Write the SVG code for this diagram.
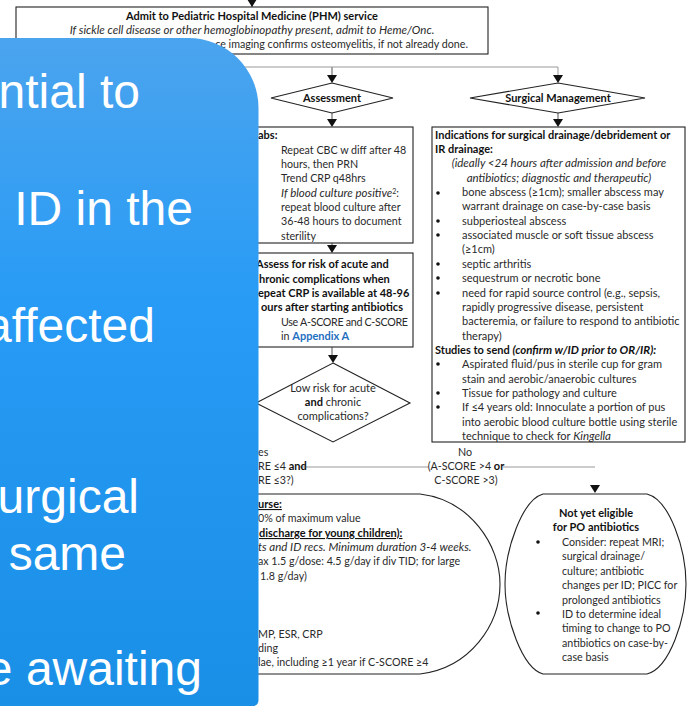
<svg xmlns="http://www.w3.org/2000/svg" width="692" height="706" viewBox="0 0 692 706">
<style>
text{font-family:Lato,"Open Sans","Liberation Sans",sans-serif;font-size:10.7px;fill:#2a2a2a}
.b{font-weight:700;fill:#111;font-size:11px}
.i{font-style:italic;font-size:11.5px}
.u{text-decoration:underline}
.c{text-anchor:middle}
.r text{font-size:11px}
.r .i{font-size:11.5px}
.s{fill:#fff;stroke:#222;stroke-width:1.1}
.l{fill:none;stroke:#555;stroke-width:1}
.g{fill:none;stroke:#999;stroke-width:1}
.a{fill:#111;stroke:none}
.w{font-family:"Liberation Sans",Arial,sans-serif;font-size:48px;fill:#fff;text-anchor:end}
.d{fill:#111}
</style>
<defs>
<linearGradient id="bg" x1="0" y1="0" x2="0" y2="1"><stop offset="0" stop-color="#4ba4ee"/><stop offset="0.4" stop-color="#279bf5"/><stop offset="1" stop-color="#1a8fe6"/></linearGradient>
<polygon id="ah" class="a" points="-5,0 5,0 0,8"/>
</defs>
<rect width="692" height="706" fill="#fff"/>
<g id="connectors">
<path class="l" d="M252 0V7M332 67V76M332 113V120M332 243V247M332 347V355M558 113V120"/>
<path class="g" d="M230 67H558V76M300 467H429M503 467H595"/>
<use href="#ah" x="252" y="-1"/>
<use href="#ah" x="332" y="75"/>
<use href="#ah" x="558" y="75"/>
<use href="#ah" x="332" y="119"/>
<use href="#ah" x="558" y="119"/>
<use href="#ah" x="332" y="245"/>
<use href="#ah" x="333" y="355"/>
<use href="#ah" x="595" y="485"/>
</g>
<g id="admit">
<rect class="s" x="16" y="7" width="472" height="47"/>
<text class="b c" x="252" y="20">Admit to Pediatric Hospital Medicine (PHM) service</text>
<text class="i c" x="252" y="34">If sickle cell disease or other hemoglobinopathy present, admit to Heme/Onc.</text>
<text x="468" y="48" style="text-anchor:end">ce imaging confirms osteomyelitis, if not already done.</text>
</g>
<g id="assessment">
<polygon class="s" points="332,83 393,98 332,113 271,98"/>
<text class="b c" x="332" y="102">Assessment</text>
</g>
<g id="surgical-management">
<polygon class="s" points="558,83 645,98 558,113 470,98"/>
<text class="b c" x="558" y="102">Surgical Management</text>
</g>
<g id="labs">
<rect class="s" x="200" y="127" width="213" height="116"/>
<text class="b" x="258" y="139">abs:</text>
<text x="281" y="154">Repeat CBC w diff after 48</text>
<text x="281" y="168">hours, then PRN</text>
<text x="281" y="182">Trend CRP q48hrs</text>
<text x="281" y="197"><tspan class="i">If blood culture positive</tspan><tspan dy="-3" font-size="7">2</tspan><tspan dy="3">:</tspan></text>
<text x="281" y="211">repeat blood culture after</text>
<text x="281" y="225">36-48 hours to document</text>
<text x="281" y="240">sterility</text>
</g>
<g id="assess-risk">
<rect class="s" x="200" y="253" width="213" height="94"/>
<text class="b" x="256" y="268">Assess for risk of acute and</text>
<text class="b" x="259" y="283">hronic complications when</text>
<text class="b" x="258" y="297">epeat CRP is available at 48-96</text>
<text class="b" x="261" y="311" textLength="142">ours after starting antibiotics</text>
<text x="281" y="326" textLength="127">Use A-SCORE and C-SCORE</text>
<text x="281" y="340">in <tspan class="b" style="fill:#1f6fc0">Appendix A</tspan></text>
</g>
<g id="low-risk" class="r">
<polygon class="s" points="333,363 410,403 333,442 256,403"/>
<text class="c" x="333" y="392">Low risk for acute</text>
<text class="c" x="333" y="406"><tspan class="b">and</tspan> chronic</text>
<text class="c" x="333" y="420">complications?</text>
</g>
<g id="surgical-box" class="r">
<rect class="s" x="432" y="127" width="253" height="315"/>
<text class="b" x="435" y="139">Indications for surgical drainage/debridement or</text>
<text class="b" x="435" y="153">IR drainage:</text>
<text class="i c" x="559" y="167">(ideally &lt;24 hours after admission and before</text>
<text class="i c" x="559" y="182">antibiotics; diagnostic and therapeutic)</text>
<circle class="d" cx="438" cy="193" r="1.8"/>
<text x="462" y="196">bone abscess (≥1cm); smaller abscess may</text>
<text x="462" y="210">warrant drainage on case-by-case basis</text>
<circle class="d" cx="438" cy="221" r="1.8"/>
<text x="462" y="225">subperiosteal abscess</text>
<circle class="d" cx="438" cy="235" r="1.8"/>
<text x="462" y="239">associated muscle or soft tissue abscess</text>
<text x="462" y="253">(≥1cm)</text>
<circle class="d" cx="438" cy="264" r="1.8"/>
<text x="462" y="268">septic arthritis</text>
<circle class="d" cx="438" cy="278" r="1.8"/>
<text x="462" y="282">sequestrum or necrotic bone</text>
<circle class="d" cx="438" cy="293" r="1.8"/>
<text x="462" y="297">need for rapid source control (e.g., sepsis,</text>
<text x="462" y="311">rapidly progressive disease, persistent</text>
<text x="462" y="325">bacteremia, or failure to respond to antibiotic</text>
<text x="462" y="340">therapy)</text>
<text class="b" x="435" y="354">Studies to send <tspan class="i">(confirm w/ID prior to OR/IR):</tspan></text>
<circle class="d" cx="438" cy="364" r="1.8"/>
<text x="462" y="368">Aspirated fluid/pus in sterile cup for gram</text>
<text x="462" y="383">stain and aerobic/anaerobic cultures</text>
<circle class="d" cx="438" cy="393" r="1.8"/>
<text x="462" y="397">Tissue for pathology and culture</text>
<circle class="d" cx="438" cy="407" r="1.8"/>
<text x="462" y="411">If ≤4 years old: Innoculate a portion of pus</text>
<text x="462" y="426">into aerobic blood culture bottle using sterile</text>
<text x="462" y="440">technique to check for <tspan class="i">Kingella</tspan></text>
</g>
<g id="yes-label">
<text x="258" y="456">es</text>
<text x="258" y="470">RE ≤4 <tspan class="b">and</tspan></text>
<text x="258" y="484">RE ≤3?)</text>
</g>
<g id="no-label">
<text class="c" x="465" y="456">No</text>
<text class="c" x="466" y="470">(A-SCORE &gt;4 <tspan class="b">or</tspan></text>
<text class="c" x="466" y="484">C-SCORE &gt;3)</text>
</g>
<g id="oral-course">
<path class="s" d="M200 494H420C470 500 500 545 500 584C500 625 470 668 420 674H200Z"/>
<text class="b u" x="258" y="508">urse:</text>
<text x="258" y="522">0% of maximum value</text>
<text class="b u" x="259" y="537">discharge for young children):</text>
<text class="i" x="258" y="551">ts and ID recs. Minimum duration 3-4 weeks.</text>
<text x="258" y="565">ax 1.5 g/dose: 4.5 g/day if div TID; for large</text>
<text x="260" y="580">1.8 g/day)</text>
<text x="258" y="638">MP, ESR, CRP</text>
<text x="258" y="652">ding</text>
<text x="258" y="666">lae, including ≥1 year if C-SCORE ≥4</text>
</g>
<g id="not-eligible">
<path class="s" d="M543 494H647C670 500 686 550 686 584C686 618 670 668 647 674H543C522 668 505 618 505 584C505 550 522 500 543 494Z"/>
<text class="b c" x="596" y="517">Not yet eligible</text>
<text class="b c" x="596" y="531">for PO antibiotics</text>
<circle class="d" cx="538" cy="542" r="1.8"/>
<text x="562" y="546">Consider: repeat MRI;</text>
<text x="562" y="560">surgical drainage/</text>
<text x="562" y="575">culture; antibiotic</text>
<text x="562" y="589">changes per ID; PICC for</text>
<text x="562" y="604">prolonged antibiotics</text>
<circle class="d" cx="538" cy="613" r="1.8"/>
<text x="562" y="618">ID to determine ideal</text>
<text x="562" y="632">timing to change to PO</text>
<text x="562" y="647">antibiotics on case-by-</text>
<text x="562" y="661">case basis</text>
</g>
<g id="overlay">
<path d="M-30 38H188A70 70 0 0 1 258.500 108V700Q258.500 706 252 706H-30Z" fill="url(#bg)"/>
<text class="w" x="140" y="108">ntial to</text>
<text class="w" x="193" y="225">ID in the</text>
<text class="w" x="155" y="342">affected</text>
<text class="w" x="139" y="513">urgical</text>
<text class="w" x="126" y="570">same</text>
<text class="w" x="202" y="685">e awaiting</text>
</g>
</svg>
